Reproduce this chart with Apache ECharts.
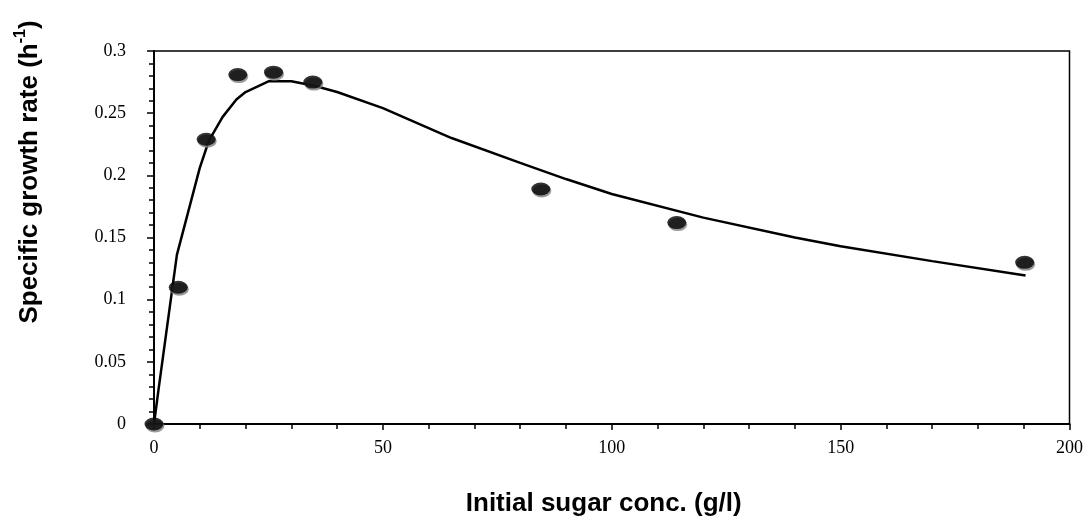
<!DOCTYPE html>
<html>
<head>
<meta charset="utf-8">
<script src="https://cdn.jsdelivr.net/npm/echarts@6/dist/echarts.min.js"></script>
<style>
html,body{margin:0;padding:0;background:#fff;}
#chart{width:1086px;height:522px;}
</style>
</head>
<body>
<div id="chart"></div>
<script>
// Measured data points (initial sugar conc. g/l, specific growth rate h^-1)
var obsX = [0, 5.3, 11.4, 18.3, 26.1, 34.7, 84.5, 114.2, 190.2];
var obsY = [0, 0.110, 0.229, 0.281, 0.283, 0.275, 0.189, 0.162, 0.130];

// Model curve
var fitX = [0, 1, 5, 10, 12, 15, 18, 20, 25, 30, 35, 40, 50, 65, 80, 90, 100, 120, 140, 150, 170, 190.4];
var fitY = [0, 0.028, 0.136, 0.206, 0.228, 0.247, 0.261, 0.267, 0.2756, 0.2756, 0.272, 0.267, 0.254, 0.230, 0.210, 0.197, 0.185, 0.166, 0.150, 0.143, 0.131, 0.1195];

var xTickLabels = ['0', '50', '100', '150', '200'];
var yTickLabels = ['0', '0.05', '0.1', '0.15', '0.2', '0.25', '0.3'];

var xTitle = 'Initial sugar conc. (g/l)';
var yTitleMain = 'Specific growth rate (h';
var yTitleSup = '-1';
var yTitleEnd = ')';

var obsData = obsX.map(function (x, i) { return [x, obsY[i]]; });
var fitData = fitX.map(function (x, i) { return [x, fitY[i]]; });

var chart = echarts.init(document.getElementById('chart'), null, {renderer: 'canvas'});
chart.setOption({
  backgroundColor: '#ffffff',
  animation: false,
  grid: {
    left: 154, right: 11, top: 51, bottom: 95,
    show: true, borderColor: '#000', borderWidth: 1.5, backgroundColor: 'transparent'
  },
  xAxis: {
    type: 'value', min: 0, max: 200, interval: 50,
    name: xTitle, nameLocation: 'middle', nameGap: 67,
    nameTextStyle: {fontFamily: 'Liberation Sans, Arial, sans-serif', fontWeight: 'bold', fontSize: 26, color: '#000', padding: [0, 16, 0, 0]},
    axisLine: {show: true, onZero: false, lineStyle: {color: '#000', width: 2}},
    axisTick: {show: true, length: 6, lineStyle: {color: '#000', width: 1.5}},
    minorTick: {show: true, splitNumber: 5, length: 5, lineStyle: {color: '#000', width: 1.5}},
    splitLine: {show: false},
    axisLabel: {
      margin: 15, color: '#000', fontFamily: 'Liberation Serif, Times New Roman, serif', fontSize: 18,
      formatter: function (v) { return xTickLabels[Math.round(v / 50)]; }
    }
  },
  yAxis: {
    type: 'value', min: 0, max: 0.3, interval: 0.05,
    axisLine: {show: true, onZero: false, lineStyle: {color: '#000', width: 2}},
    axisTick: {show: true, length: 7, lineStyle: {color: '#000', width: 1.5}},
    minorTick: {show: true, splitNumber: 5, length: 5, lineStyle: {color: '#000', width: 1.5}},
    splitLine: {show: false},
    axisLabel: {
      margin: 28, color: '#000', fontFamily: 'Liberation Serif, Times New Roman, serif', fontSize: 18,
      formatter: function (v) { return yTickLabels[Math.round(v / 0.05)]; }
    }
  },
  graphic: [{
    type: 'text',
    x: 28, y: 172,
    rotation: Math.PI / 2,
    style: {
      text: '{a|' + yTitleMain + '}{s|' + yTitleSup + '}{a|' + yTitleEnd + '}',
      align: 'center', verticalAlign: 'middle',
      rich: {
        a: {fontFamily: 'Liberation Sans, Arial, sans-serif', fontWeight: 'bold', fontSize: 26, fill: '#000', lineHeight: 30, verticalAlign: 'bottom'},
        s: {fontFamily: 'Liberation Sans, Arial, sans-serif', fontWeight: 'bold', fontSize: 16, fill: '#000', lineHeight: 30, verticalAlign: 'top'}
      }
    }
  }],
  series: [{
    type: 'line',
    data: fitData,
    smooth: false,
    showSymbol: false,
    symbol: 'none',
    lineStyle: {color: '#000', width: 2.5},
    z: 2
  }, {
    type: 'scatter',
    data: obsData,
    symbol: 'circle',
    symbolSize: [19, 13],
    clip: false,
    itemStyle: {color: '#000', shadowColor: '#808080', shadowBlur: 0, shadowOffsetX: 1, shadowOffsetY: 2},
    z: 3
  }]
});
</script>
</body>
</html>
